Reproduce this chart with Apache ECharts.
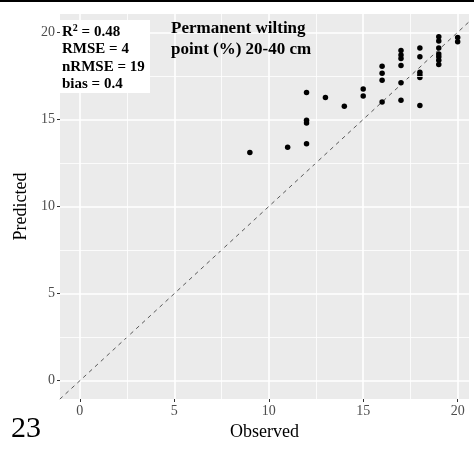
<!DOCTYPE html>
<html>
<head>
<meta charset="utf-8">
<script src="https://cdn.jsdelivr.net/npm/echarts@6/dist/echarts.min.js"></script>
<style>
  html, body { margin: 0; padding: 0; background: #fff; }
  #chart { width: 474px; height: 455px; }
</style>
</head>
<body>
<div id="chart"></div>
<script>
// observed vs predicted
const observed = [
  9, 11, 12, 12, 12, 12, 13, 14, 15, 15,
  16, 16, 16, 16,
  17, 17, 17, 17, 17, 17,
  18, 18, 18, 18, 18, 18,
  19, 19, 19, 19, 19, 19, 19,
  20, 20
];
const predicted = [
  13.1, 13.4, 13.6, 14.8, 14.95, 16.55, 16.25, 15.75, 16.35, 16.75,
  18.05, 17.65, 17.25, 16.0,
  18.95, 18.7, 18.5, 18.1, 17.1, 16.1,
  19.1, 18.6, 17.7, 17.55, 17.4, 15.8,
  19.75, 19.5, 19.1, 18.75, 18.6, 18.4, 18.15,
  19.7, 19.45
];
const majorTicks = [0, 5, 10, 15, 20];
const minorTicks = [2.5, 7.5, 12.5, 17.5];
const identityLine = [-2, 22];
const statsLines = ["R{sup|2} = 0.48", "RMSE = 4", "nRMSE = 19", "bias = 0.4"];
const panelTitle = ["Permanent wilting", "point (%) 20-40 cm"];

const serif = '"Liberation Serif", "DejaVu Serif", serif';
const chart = echarts.init(document.getElementById("chart"));

const axisCommon = {
  type: "value",
  nameLocation: "middle",
  nameTextStyle: { fontFamily: serif, fontSize: 18, color: "#000" },
  axisLine: { show: false, onZero: false },
  axisTick: { show: true, customValues: majorTicks, length: 3, lineStyle: { color: "#333", width: 1 } },
  axisLabel: { customValues: majorTicks, fontFamily: serif, fontSize: 14, color: "#4D4D4D", margin: 5 },
  splitLine: { show: true, lineStyle: { color: "#fff", width: 1.6 } },
  splitNumber: 4
};

const option = {
  animation: false,
  grid: {
    left: 60, right: 5, top: 14, bottom: 56,
    show: true, backgroundColor: "#EBEBEB", borderWidth: 0
  },
  xAxis: Object.assign({}, axisCommon, {
    name: "Observed", nameGap: 23, min: -1.05, max: 20.6
  }),
  yAxis: Object.assign({}, axisCommon, {
    name: "Predicted", nameGap: 21, min: -1.05, max: 21.05
  }),
  series: [
    {
      type: "line",
      silent: true,
      symbol: "none",
      z: 1,
      data: [],
      markLine: {
        silent: true,
        symbol: "none",
        label: { show: false },
        lineStyle: { color: "#fff", width: 0.8, type: "solid" },
        data: minorTicks.map((v) => ({ xAxis: v }))
          .concat(minorTicks.map((v) => ({ yAxis: v })))
      }
    },
    {
      type: "line",
      symbol: "none",
      clip: true,
      z: 2,
      lineStyle: { color: "#333", width: 0.8, type: [4, 4] },
      data: identityLine.map((v) => [v, v])
    },
    {
      type: "scatter",
      symbolSize: 5.5,
      z: 3,
      itemStyle: { color: "#000", opacity: 1 },
      data: observed.map((o, i) => [o, predicted[i]])
    }
  ],
  graphic: [
    { type: "line", shape: { x1: 0, y1: 1, x2: 474, y2: 1 }, style: { stroke: "#000", lineWidth: 2 } },
    { type: "rect", shape: { x: 60, y: 20, width: 90, height: 73 }, style: { fill: "#fff" }, z: 10 },
    {
      type: "text", left: 62, top: 23, z: 11,
      style: {
        text: statsLines.join("\n"),
        font: "bold 15px " + serif,
        lineHeight: 17.5,
        fill: "#000",
        rich: { sup: { font: "bold 10px " + serif, verticalAlign: "top", lineHeight: 17.5 } }
      }
    },
    {
      type: "text", left: 171, top: 18, z: 11,
      style: { text: panelTitle.join("\n"), font: "bold 17px " + serif, lineHeight: 21, fill: "#000" }
    },
    {
      type: "text", left: 11, top: 414, z: 11,
      style: { text: "23", font: "30px " + serif, fill: "#000" }
    }
  ]
};
chart.setOption(option);
</script>
</body>
</html>
